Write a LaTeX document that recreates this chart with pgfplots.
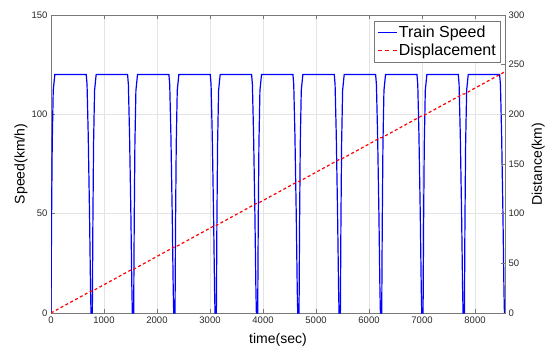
\documentclass[border=0pt]{standalone}
\usepackage{pgfplots}
\pgfplotsset{compat=1.18}
\usepackage{fontspec}
\setmainfont{Liberation Sans}
\definecolor{axline}{RGB}{120,120,120}
\definecolor{ticktext}{RGB}{40,40,40}
\definecolor{gridc}{RGB}{228,228,228}
\newcommand{\solidkey}{\textcolor{blue}{\rule[0.3em]{19pt}{1.2pt}}\hspace{2pt}}
\newcommand{\dashkey}{\textcolor{red}{\rule[0.3em]{4pt}{1.2pt}\hspace{3.5pt}\rule[0.3em]{4pt}{1.2pt}\hspace{3.5pt}\rule[0.3em]{4pt}{1.2pt}}\hspace{2pt}}
\begin{document}
\begin{tikzpicture}
\pgfplotsset{
  common/.style={
    scale only axis, width=454pt, height=298pt,
    xmin=0, xmax=8566,
    axis line style={axline, line width=0.6pt},
    tick style={axline, line width=0.6pt},
    tick align=inside,
    major tick length=4pt,
    /pgf/number format/assume math mode=true,
    /pgf/number format/1000 sep={},
    scaled x ticks=false,
    ticklabel style={font=\fontsize{9.5}{11}\selectfont, text=ticktext},
    label style={font=\fontsize{14}{16}\selectfont},
  }
}
\begin{axis}[common, name=ax,
  ymin=0, ymax=150, ytick={0,50,100,150},
  xtick={0,1000,2000,3000,4000,5000,6000,7000,8000},
  xtick pos=both, ytick pos=left,
  grid=major, grid style={gridc, line width=0.6pt},
  xlabel={time(sec)}, ylabel={Speed(km/h)},
  xlabel style={at={(axis description cs:0.5,-0.0906)}, anchor=center},
  ylabel style={at={(axis description cs:-0.066,0.5)}, anchor=center},
]
\addplot[color=blue, line width=1.2pt] coordinates {
(0,0)(10,45)(23,85)(42,112)(72,120)(665,120)(680,115)(702,90)(727,50)(746,12)(755,0)
(780,0)(790,45)(803,85)(822,112)(852,120)(1445,120)(1460,115)(1482,90)(1507,50)(1526,12)(1535,0)
(1560,0)(1570,45)(1583,85)(1602,112)(1632,120)(2225,120)(2240,115)(2262,90)(2287,50)(2306,12)(2315,0)
(2340,0)(2350,45)(2363,85)(2382,112)(2412,120)(3005,120)(3020,115)(3042,90)(3067,50)(3086,12)(3095,0)
(3120,0)(3130,45)(3143,85)(3162,112)(3192,120)(3785,120)(3800,115)(3822,90)(3847,50)(3866,12)(3875,0)
(3900,0)(3910,45)(3923,85)(3942,112)(3972,120)(4565,120)(4580,115)(4602,90)(4627,50)(4646,12)(4655,0)
(4680,0)(4690,45)(4703,85)(4722,112)(4752,120)(5345,120)(5360,115)(5382,90)(5407,50)(5426,12)(5435,0)
(5460,0)(5470,45)(5483,85)(5502,112)(5532,120)(6125,120)(6140,115)(6162,90)(6187,50)(6206,12)(6215,0)
(6240,0)(6250,45)(6263,85)(6282,112)(6312,120)(6905,120)(6920,115)(6942,90)(6967,50)(6986,12)(6995,0)
(7020,0)(7030,45)(7043,85)(7062,112)(7092,120)(7685,120)(7700,115)(7722,90)(7747,50)(7766,12)(7775,0)
(7800,0)(7810,45)(7823,85)(7842,112)(7872,120)(8465,120)(8480,115)(8502,90)(8527,50)(8546,12)(8555,0)
(8566,0)
};
\end{axis}
\begin{axis}[common,
  axis x line=none, axis y line*=right,
  ymin=0, ymax=300, ytick={0,50,100,150,200,250,300},
  ylabel={Distance(km)},
  ylabel style={at={(axis description cs:1.073,0.5)}, anchor=center},
  legend style={at={(0.989,0.98)}, anchor=north east, draw=axline, fill=white,
    font=\fontsize{16}{19}\selectfont, inner xsep=2pt, inner ysep=3pt, row sep=1pt},
  legend cell align=left,
]
\addlegendimage{empty legend}
\addlegendentry{\solidkey Train Speed}
\addplot[color=red, line width=1.2pt, dash pattern=on 3pt off 2.5pt, legend image code/.code={}] coordinates {
(0,0)(755,22.1)(780,22.1)(1535,44.1)(1560,44.1)(2315,66.2)(2340,66.2)(3095,88.2)(3120,88.2)
(3875,110.3)(3900,110.3)(4655,132.3)(4680,132.3)(5435,154.4)(5460,154.4)(6215,176.4)(6240,176.4)
(6995,198.5)(7020,198.5)(7775,220.5)(7800,220.5)(8555,242.6)(8566,242.6)
};
\addlegendentry{\dashkey Displacement}
\end{axis}
\pgfresetboundingbox
\path ([shift={(-51pt,-34pt)}]ax.south west) rectangle ([shift={(45pt,15pt)}]ax.north east);
\end{tikzpicture}
\end{document}
